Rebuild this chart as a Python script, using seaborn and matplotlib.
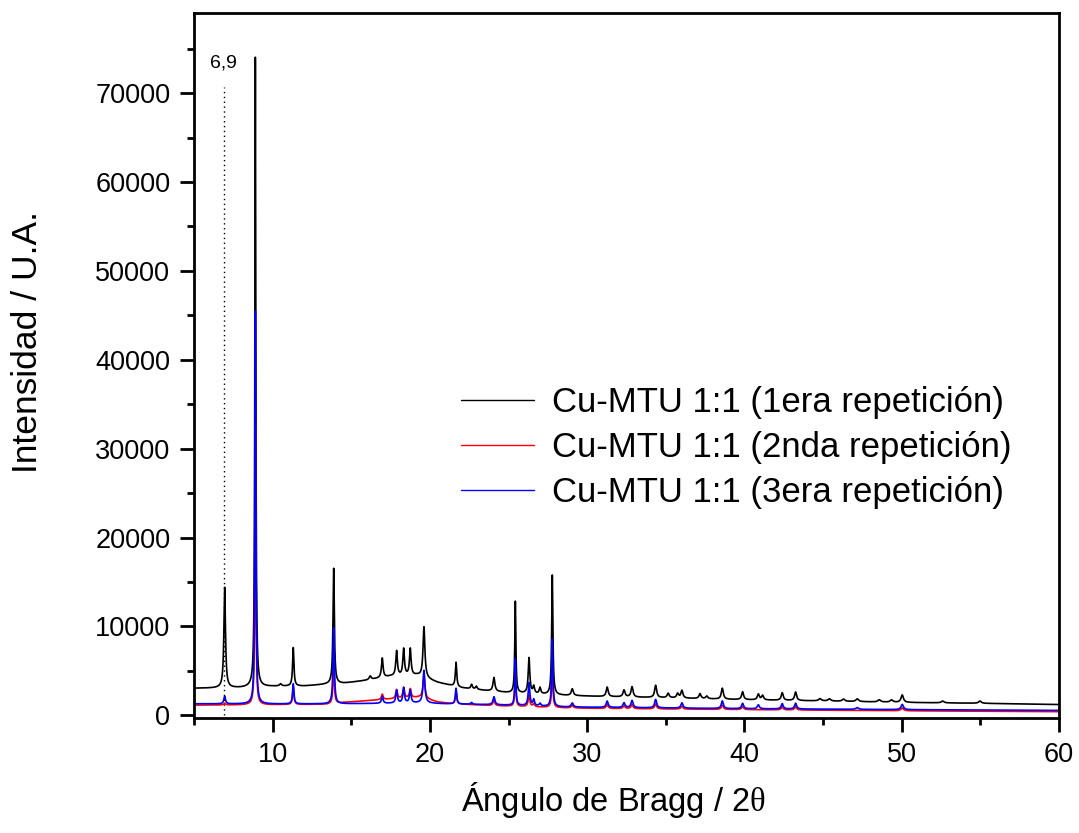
import numpy as np
import pandas as pd
import matplotlib
matplotlib.use("Agg")
import matplotlib.pyplot as plt
from matplotlib.ticker import MultipleLocator
import seaborn as sns

# ---- Series names -------------------------------------------------------
series_names = [
    "Cu-MTU 1:1 (1era repetición)",
    "Cu-MTU 1:1 (2nda repetición)",
    "Cu-MTU 1:1 (3era repetición)",
]
series_colors = ["#000000", "#ff0000", "#0000ff"]

# ---- Background (angle, intensity) --------------------------------------
bg1_angle = [5, 8, 10, 12, 13.5, 14.5, 16, 17.5, 19.2, 20.5, 22, 23.5, 25, 28.5, 31, 35, 40, 45, 50, 55, 60]
bg1_int = [3050, 3100, 3250, 3300, 3500, 3600, 3950, 4400, 4500, 3700, 3100, 2800, 2550, 2250, 2120, 1980, 1760, 1620, 1460, 1360, 1220]

bg2_angle = [5, 10, 13.5, 14.5, 16, 17.5, 19.4, 20.5, 21.5, 24, 28.5, 31, 40, 50, 60]
bg2_int = [1150, 1200, 1250, 1450, 1650, 1850, 2050, 1500, 1300, 1100, 850, 780, 650, 520, 420]

bg3_angle = [5, 10, 14, 17, 19.5, 21, 24, 28.5, 31, 40, 50, 60]
bg3_int = [1300, 1280, 1300, 1350, 1400, 1300, 1200, 950, 900, 750, 650, 560]

# ---- Reflections: position (2θ), height above background, FWHM ----------
pk1_pos = [6.95, 8.9, 10.5, 11.31, 13.88, 16.2, 16.97, 17.88, 18.33, 18.75, 19.62, 21.66, 22.65, 22.95,
           24.07, 25.43, 26.3, 26.6, 27.0, 27.78, 29.05, 31.27, 32.34, 32.85, 34.35, 35.15, 35.75, 36.02,
           37.17, 37.6, 38.59, 39.88, 40.88, 41.15, 42.4, 43.25, 44.8, 45.4, 46.3, 47.17, 48.57, 49.35,
           50.03, 52.6, 54.97]
pk1_h = [11300, 70850, 250, 4320, 13000, 400, 2190, 2800, 3000, 3000, 5700, 2730, 500, 350,
         1540, 10300, 4000, 800, 700, 13460, 750, 1060, 770, 1160, 1375, 500, 500, 850,
         550, 300, 1230, 880, 650, 500, 850, 950, 250, 250, 250, 300, 250, 250,
         830, 200, 250]
pk1_w = [0.12, 0.07, 0.15, 0.10, 0.10, 0.15, 0.12, 0.12, 0.12, 0.12, 0.14, 0.10, 0.12, 0.12,
         0.14, 0.08, 0.12, 0.12, 0.12, 0.09, 0.15, 0.15, 0.15, 0.15, 0.15, 0.15, 0.15, 0.15,
         0.15, 0.15, 0.15, 0.15, 0.15, 0.15, 0.15, 0.15, 0.2, 0.2, 0.2, 0.2, 0.2, 0.2,
         0.18, 0.2, 0.2]

pk2_pos = [6.95, 8.9, 11.31, 13.88, 16.97, 17.88, 18.33, 18.75, 19.62, 21.66, 24.07, 25.43, 26.3,
           26.6, 27.78, 29.05, 31.27, 32.34, 32.85, 34.35, 36.02, 38.59, 39.88, 42.4, 43.25, 50.03]
pk2_h = [200, 32000, 2000, 4300, 600, 1000, 1200, 1000, 2600, 1400, 600, 3800, 1300,
         350, 4700, 300, 420, 300, 450, 550, 330, 480, 350, 330, 380, 330]
pk2_w = [0.12, 0.07, 0.10, 0.10, 0.12, 0.12, 0.12, 0.12, 0.14, 0.10, 0.14, 0.08, 0.12,
         0.12, 0.09, 0.15, 0.15, 0.15, 0.15, 0.15, 0.15, 0.15, 0.15, 0.15, 0.15, 0.18]

pk3_pos = [6.95, 8.9, 11.31, 13.88, 16.97, 17.88, 18.33, 18.75, 19.62, 21.66, 22.65, 24.07, 25.43,
           26.3, 26.6, 27.0, 27.78, 29.05, 31.27, 32.34, 32.85, 34.35, 36.02, 38.59, 39.88, 40.88,
           42.4, 43.25, 47.17, 50.03]
pk3_h = [870, 44200, 2270, 8560, 770, 1450, 1700, 1450, 3660, 1770, 200, 900, 5250,
         2580, 700, 300, 7600, 450, 710, 540, 800, 950, 600, 850, 600, 450,
         600, 650, 200, 580]
pk3_w = [0.12, 0.07, 0.10, 0.10, 0.12, 0.12, 0.12, 0.12, 0.14, 0.10, 0.12, 0.14, 0.08,
         0.12, 0.12, 0.12, 0.09, 0.15, 0.15, 0.15, 0.15, 0.15, 0.15, 0.15, 0.15, 0.15,
         0.15, 0.15, 0.2, 0.18]

# Annotated reflection
mark_angle = 6.9
mark_top = 70700
mark_label_y = 73400

# ---- Build diffractograms ------------------------------------------------
two_theta = np.arange(5.0, 60.0001, 0.005)


def pattern(bg_a, bg_i, pos, h, w):
    y = np.interp(two_theta, bg_a, bg_i)
    for c, a, f in zip(pos, h, w):
        y = y + a / (1.0 + ((two_theta - c) / (f / 2.0)) ** 2)
    return y


curves = [
    pattern(bg1_angle, bg1_int, pk1_pos, pk1_h, pk1_w),
    pattern(bg2_angle, bg2_int, pk2_pos, pk2_h, pk2_w),
    pattern(bg3_angle, bg3_int, pk3_pos, pk3_h, pk3_w),
]
df = pd.concat(
    [pd.DataFrame({"angle": two_theta, "intensity": c, "serie": n}) for c, n in zip(curves, series_names)],
    ignore_index=True,
)

# ---- Figure ---------------------------------------------------------------
sns.set_style("ticks")
plt.rcParams["font.family"] = ["Liberation Sans", "DejaVu Sans"]
plt.rcParams["mathtext.fontset"] = "custom"
plt.rcParams["mathtext.rm"] = "Liberation Serif"
plt.rcParams["text.color"] = "black"
plt.rcParams["axes.labelcolor"] = "black"
plt.rcParams["xtick.color"] = "black"
plt.rcParams["ytick.color"] = "black"

fig = plt.figure(figsize=(10.79, 8.33), dpi=100)
ax = fig.add_axes([0.1798, 0.1380, 0.8017, 0.8463])

sns.lineplot(
    data=df, x="angle", y="intensity", hue="serie",
    palette=dict(zip(series_names, series_colors)),
    hue_order=series_names, estimator=None, sort=False,
    linewidth=1.2, ax=ax, legend=False,
)

ax.plot([mark_angle, mark_angle], [0, mark_top], linestyle=(0, (1, 2.5)), color="black", linewidth=1.0)
ax.text(mark_angle, mark_label_y, "6,9", ha="center", va="center", fontsize=14, color="black")

ax.set_xlim(5, 60)
ax.set_ylim(-300, 79000)
ax.xaxis.set_major_locator(MultipleLocator(10))
ax.xaxis.set_minor_locator(MultipleLocator(5))
ax.yaxis.set_major_locator(MultipleLocator(10000))
ax.yaxis.set_minor_locator(MultipleLocator(5000))

for s in ax.spines.values():
    s.set_linewidth(2.0)
    s.set_color("black")
ax.tick_params(which="major", direction="out", length=10, width=2.0, labelsize=19.5, pad=7,
               colors="black", top=False, right=False)
ax.tick_params(which="minor", direction="out", length=5, width=2.0, colors="black", top=False, right=False)

ax.set_xlabel("Ángulo de Bragg / 2$\\mathrm{θ}$", fontsize=23.5, va="center", color="black")
ax.set_ylabel("Intensidad / U.A.", fontsize=25.5, va="center", color="black")
ax.xaxis.set_label_coords(0.485, -0.116)
ax.yaxis.set_label_coords(-0.192, 0.533)

handles = [plt.Line2D([], [], color=c, linewidth=1.0) for c in series_colors]
ax.legend(handles, series_names, loc="center left", bbox_to_anchor=(0.309, 0.384),
          frameon=False, fontsize=25, handlelength=2.1, handletextpad=0.5,
          labelspacing=0.35, borderpad=0, borderaxespad=0, labelcolor="black")

fig.savefig("out.png", dpi=100, facecolor="white")
